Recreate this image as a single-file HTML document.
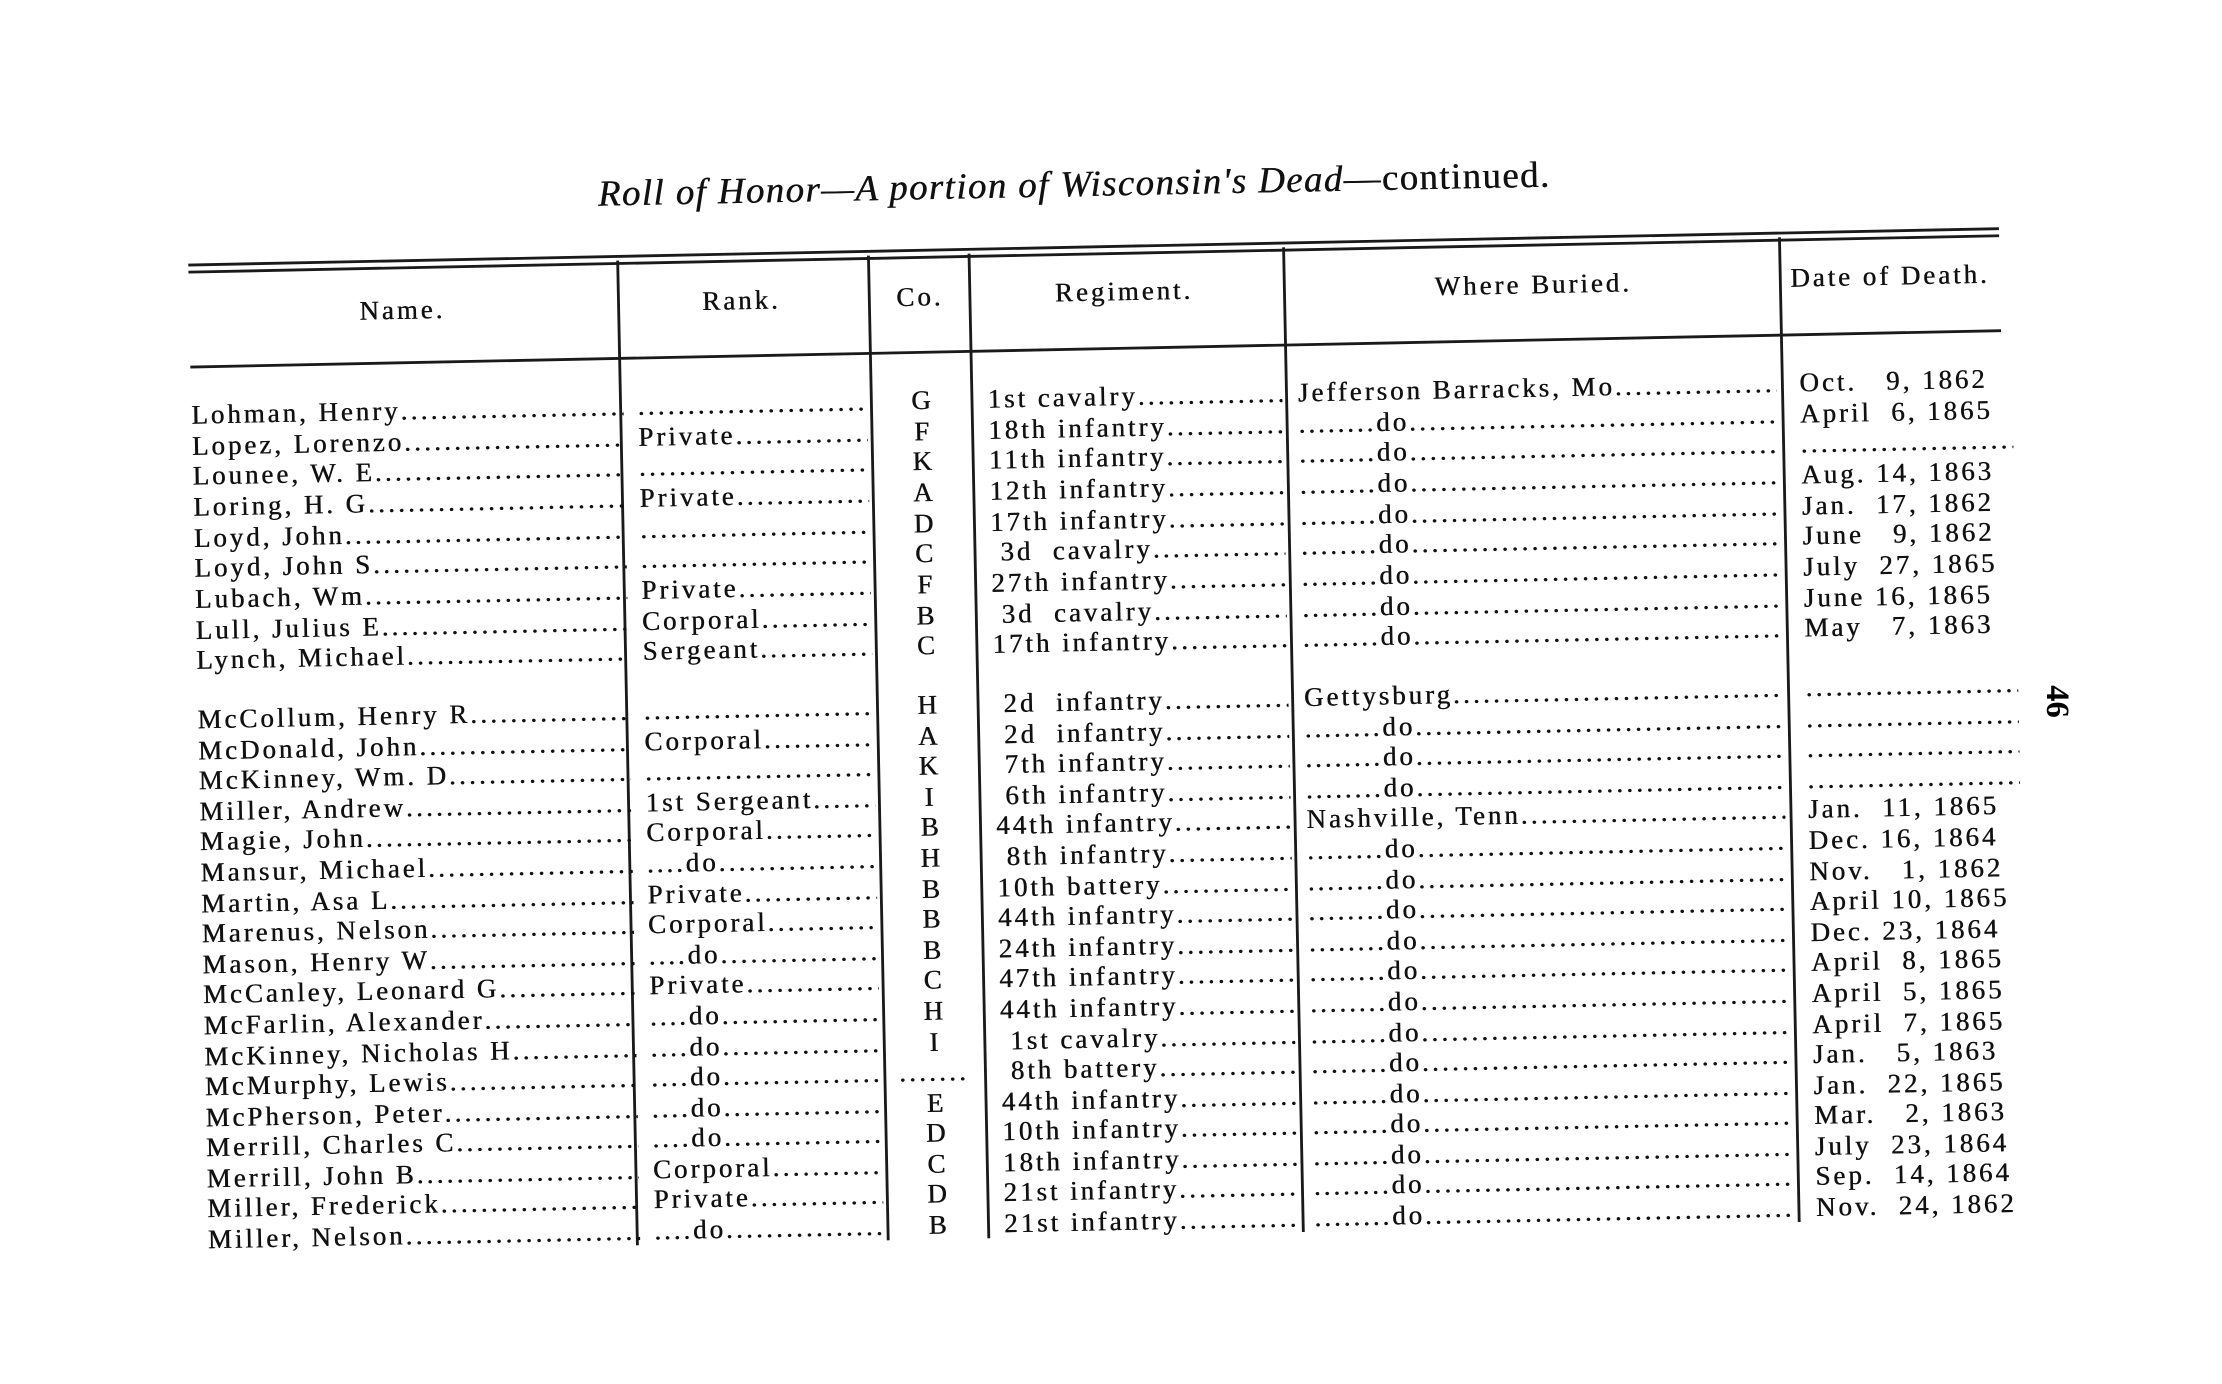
<!DOCTYPE html>
<html><head><meta charset="utf-8"><style>
html,body{margin:0;padding:0;background:#fff;}
body{width:2222px;height:1380px;overflow:hidden;position:relative;}
#s{position:absolute;left:0;top:0;width:1568px;height:974px;transform-origin:0 0;transform:scale(1.41709);}
#w{position:absolute;left:0;top:0;width:1568px;height:974px;transform-origin:135px 293px;transform:rotate(-1.15deg);font-family:"Liberation Serif",serif;color:#111;font-size:19px;letter-spacing:2.1px;text-shadow:0.35px 0 0 #111;}
.h{position:absolute;background:#1a1a1a;}
.v{position:absolute;width:1.5px;background:#1a1a1a;top:190px;height:695px;}
.hd{position:absolute;white-space:nowrap;}
.r{position:absolute;left:0;width:1500px;height:22px;line-height:22px;}
.r i{font-style:normal;position:absolute;top:0;white-space:nowrap;overflow:hidden;}
.n{left:135px;width:305px}.k{left:450px;width:162px}.o{left:625px;width:50px;text-align:center;letter-spacing:0}
.g{left:697px;width:208px}.b{left:916px;width:338px}.t{left:1270px;width:150px}
.n::after,.k::after,.g::after,.b::after,.t:empty::after,.o:empty::after{content:"..............................................................";letter-spacing:2.3px;}
</style></head><body><div id="s">
<div id="w">
<div class="hd" style="left:425px;top:128px;font-size:26px;font-style:italic;letter-spacing:1px;">Roll of Honor—A portion of Wisconsin's Dead<span style="font-style:normal">—continued.</span></div>
<div class="h" style="left:135px;top:186px;width:1278px;height:1.5px"></div>
<div class="h" style="left:135px;top:191px;width:1278px;height:1.5px"></div>
<div class="h" style="left:135px;top:258px;width:1278px;height:2px"></div>
<div class="v" style="left:437px"></div><div class="v" style="left:614px"></div><div class="v" style="left:685px"></div><div class="v" style="left:907px"></div><div class="v" style="left:1257px"></div>
<div class="hd" style="left:255px;top:212px">Name.</div>
<div class="hd" style="left:497px;top:210px">Rank.</div>
<div class="hd" style="left:634px;top:210px">Co.</div>
<div class="hd" style="left:746px;top:209px">Regiment.</div>
<div class="hd" style="left:1014px;top:210px">Where Buried.</div>
<div class="hd" style="left:1265px;top:209px">Date of Death.</div>

<div class="r" style="top:283px"><i class="n">Lohman, Henry</i><i class="k"></i><i class="o">G</i><i class="g">1st cavalry</i><i class="b">Jefferson Barracks, Mo</i><i class="t">Oct. &nbsp;&nbsp;9, 1862</i></div>
<div class="r" style="top:305px"><i class="n">Lopez, Lorenzo</i><i class="k">Private</i><i class="o">F</i><i class="g">18th infantry</i><i class="b">........do</i><i class="t">April &nbsp;6, 1865</i></div>
<div class="r" style="top:326px"><i class="n">Lounee, W. E</i><i class="k"></i><i class="o">K</i><i class="g">11th infantry</i><i class="b">........do</i><i class="t"></i></div>
<div class="r" style="top:348px"><i class="n">Loring, H. G</i><i class="k">Private</i><i class="o">A</i><i class="g">12th infantry</i><i class="b">........do</i><i class="t">Aug. 14, 1863</i></div>
<div class="r" style="top:370px"><i class="n">Loyd, John</i><i class="k"></i><i class="o">D</i><i class="g">17th infantry</i><i class="b">........do</i><i class="t">Jan. &nbsp;17, 1862</i></div>
<div class="r" style="top:391px"><i class="n">Loyd, John S</i><i class="k"></i><i class="o">C</i><i class="g">&nbsp;3d &nbsp;cavalry</i><i class="b">........do</i><i class="t">June &nbsp;&nbsp;9, 1862</i></div>
<div class="r" style="top:413px"><i class="n">Lubach, Wm</i><i class="k">Private</i><i class="o">F</i><i class="g">27th infantry</i><i class="b">........do</i><i class="t">July &nbsp;27, 1865</i></div>
<div class="r" style="top:435px"><i class="n">Lull, Julius E.</i><i class="k">Corporal</i><i class="o">B</i><i class="g">&nbsp;3d &nbsp;cavalry</i><i class="b">........do</i><i class="t">June 16, 1865</i></div>
<div class="r" style="top:456px"><i class="n">Lynch, Michael</i><i class="k">Sergeant</i><i class="o">C</i><i class="g">17th infantry</i><i class="b">........do</i><i class="t">May &nbsp;&nbsp;7, 1863</i></div>

<div class="r" style="top:498px"><i class="n">McCollum, Henry R</i><i class="k"></i><i class="o">H</i><i class="g">&nbsp;2d &nbsp;infantry</i><i class="b">Gettysburg</i><i class="t"></i></div>
<div class="r" style="top:520px"><i class="n">McDonald, John</i><i class="k">Corporal</i><i class="o">A</i><i class="g">&nbsp;2d &nbsp;infantry</i><i class="b">........do</i><i class="t"></i></div>
<div class="r" style="top:541px"><i class="n">McKinney, Wm. D</i><i class="k"></i><i class="o">K</i><i class="g">&nbsp;7th infantry</i><i class="b">........do</i><i class="t"></i></div>
<div class="r" style="top:563px"><i class="n">Miller, Andrew</i><i class="k">1st Sergeant</i><i class="o">I</i><i class="g">&nbsp;6th infantry</i><i class="b">........do</i><i class="t"></i></div>
<div class="r" style="top:584px"><i class="n">Magie, John</i><i class="k">Corporal</i><i class="o">B</i><i class="g">44th infantry</i><i class="b">Nashville, Tenn</i><i class="t">Jan. &nbsp;11, 1865</i></div>
<div class="r" style="top:606px"><i class="n">Mansur, Michael</i><i class="k">....do</i><i class="o">H</i><i class="g">&nbsp;8th infantry</i><i class="b">........do</i><i class="t">Dec. 16, 1864</i></div>
<div class="r" style="top:628px"><i class="n">Martin, Asa L.</i><i class="k">Private</i><i class="o">B</i><i class="g">10th battery</i><i class="b">........do</i><i class="t">Nov. &nbsp;&nbsp;1, 1862</i></div>
<div class="r" style="top:649px"><i class="n">Marenus, Nelson</i><i class="k">Corporal</i><i class="o">B</i><i class="g">44th infantry</i><i class="b">........do</i><i class="t">April 10, 1865</i></div>
<div class="r" style="top:671px"><i class="n">Mason, Henry W</i><i class="k">....do</i><i class="o">B</i><i class="g">24th infantry</i><i class="b">........do</i><i class="t">Dec. 23, 1864</i></div>
<div class="r" style="top:692px"><i class="n">McCanley, Leonard G</i><i class="k">Private</i><i class="o">C</i><i class="g">47th infantry</i><i class="b">........do</i><i class="t">April &nbsp;8, 1865</i></div>
<div class="r" style="top:714px"><i class="n">McFarlin, Alexander</i><i class="k">....do</i><i class="o">H</i><i class="g">44th infantry</i><i class="b">........do</i><i class="t">April &nbsp;5, 1865</i></div>
<div class="r" style="top:736px"><i class="n">McKinney, Nicholas H</i><i class="k">....do</i><i class="o">I</i><i class="g">&nbsp;1st cavalry</i><i class="b">........do</i><i class="t">April &nbsp;7, 1865</i></div>
<div class="r" style="top:757px"><i class="n">McMurphy, Lewis</i><i class="k">....do</i><i class="o"></i><i class="g">&nbsp;8th battery</i><i class="b">........do</i><i class="t">Jan. &nbsp;&nbsp;5, 1863</i></div>
<div class="r" style="top:779px"><i class="n">McPherson, Peter</i><i class="k">....do</i><i class="o">E</i><i class="g">44th infantry</i><i class="b">........do</i><i class="t">Jan. &nbsp;22, 1865</i></div>
<div class="r" style="top:800px"><i class="n">Merrill, Charles C</i><i class="k">....do</i><i class="o">D</i><i class="g">10th infantry</i><i class="b">........do</i><i class="t">Mar. &nbsp;&nbsp;2, 1863</i></div>
<div class="r" style="top:822px"><i class="n">Merrill, John B</i><i class="k">Corporal</i><i class="o">C</i><i class="g">18th infantry</i><i class="b">........do</i><i class="t">July &nbsp;23, 1864</i></div>
<div class="r" style="top:843px"><i class="n">Miller, Frederick</i><i class="k">Private</i><i class="o">D</i><i class="g">21st infantry</i><i class="b">........do</i><i class="t">Sep. &nbsp;14, 1864</i></div>
<div class="r" style="top:865px"><i class="n">Miller, Nelson</i><i class="k">....do</i><i class="o">B</i><i class="g">21st infantry</i><i class="b">........do</i><i class="t">Nov. &nbsp;24, 1862</i></div>
</div>
<div style="position:absolute;left:1440px;top:482px;font-family:'Liberation Serif',serif;font-size:23px;font-weight:bold;transform:rotate(90deg);">46</div>
</div></body></html>
